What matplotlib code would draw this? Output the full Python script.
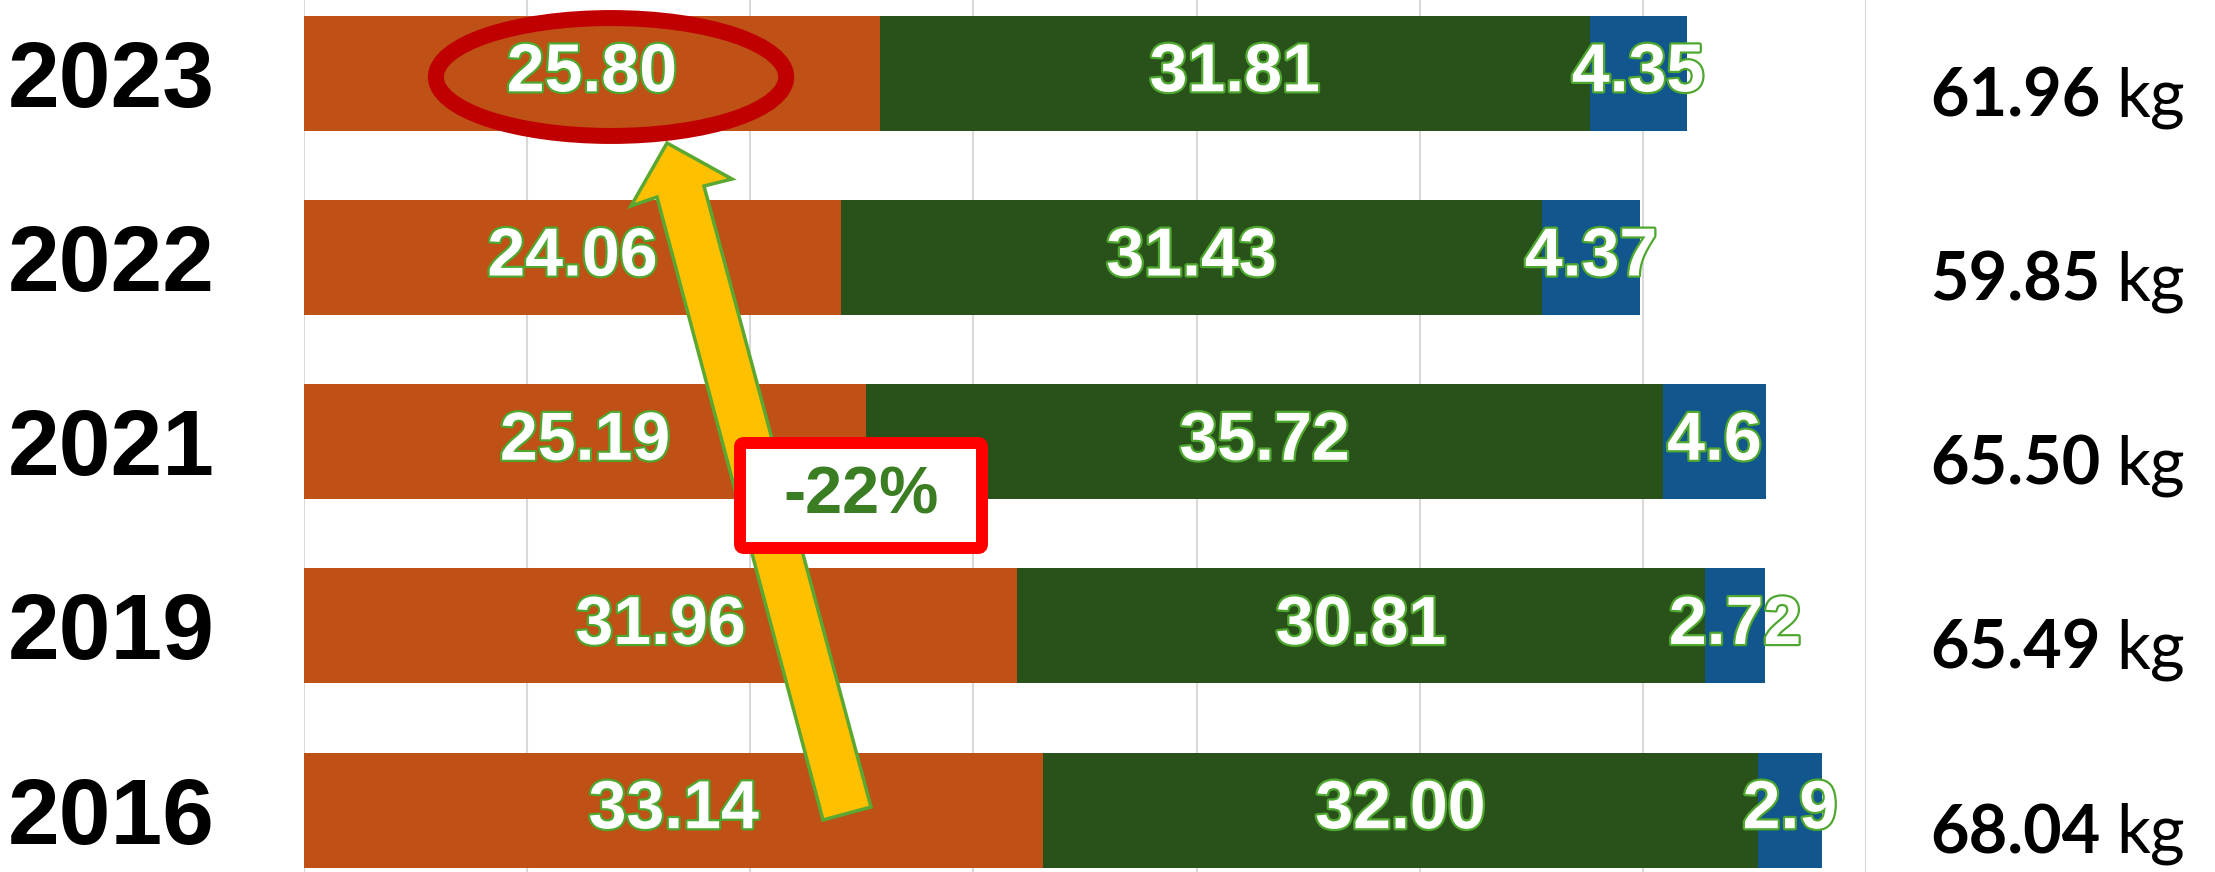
import numpy as np
import matplotlib
matplotlib.use("Agg")
import matplotlib.pyplot as plt
import matplotlib.patheffects as pe
from matplotlib.patches import Ellipse, Polygon, FancyBboxPatch

plt.rcParams['font.family'] = ['Liberation Sans', 'DejaVu Sans']

# data, top row first
years = ["2023", "2022", "2021", "2019", "2016"]
orange_vals = [25.80, 24.06, 25.19, 31.96, 33.14]
green_vals = [31.81, 31.43, 35.72, 30.81, 32.00]
blue_vals = [4.35, 4.37, 4.59, 2.72, 2.90]
blue_labels = ["4.35", "4.37", "4.6", "2.72", "2.9"]
totals = [61.96, 59.85, 65.50, 65.49, 68.04]

c_orange = '#BF5016'
c_green = '#285219'
c_blue = '#11568C'
outline = '#4EA72E'

W, H = 2215, 872
fig = plt.figure(figsize=(W / 100, H / 100), dpi=100)
ax = fig.add_axes([304 / W, 0, (1866 - 304) / W, 1])

y = np.arange(len(years))[::-1]
h = 0.624
orange = np.array(orange_vals)
green = np.array(green_vals)
blue = np.array(blue_vals)

ax.barh(y, orange, height=h, color=c_orange, zorder=2)
ax.barh(y, green, left=orange, height=h, color=c_green, zorder=2)
ax.barh(y, blue, left=orange + green, height=h, color=c_blue, zorder=2)

stroke = [pe.withStroke(linewidth=3.2, foreground=outline)]
segs = [(np.zeros_like(orange), orange, None),
        (orange, green, None),
        (orange + green, blue, blue_labels)]
for left, vals, labs in segs:
    for i in range(len(years)):
        txt = labs[i] if labs is not None else f"{vals[i]:.2f}"
        ax.text(left[i] + vals[i] / 2, y[i], txt, ha='center', va='center',
                fontsize=49, fontweight='bold', color='white',
                path_effects=stroke, zorder=5)

# totals on the right
for i, t in enumerate(totals):
    ax.text(80.5, y[i] - 0.13, f"{t:.2f}", ha='right', va='center',
            fontsize=48, fontweight='bold', family='Lato', color='black', clip_on=False)
    ax.text(81.2, y[i] - 0.13, "kg", ha='left', va='center',
            fontsize=48, family='Lato', color='black', clip_on=False)

ax.set_xlim(0, 70)
ax.set_ylim(-0.3355, 4.398)
ax.set_xticks(range(0, 71, 10))
ax.xaxis.grid(True, color='#D9D9D9', linewidth=1.5, zorder=0)
ax.set_axisbelow(True)
ax.tick_params(axis='x', length=0, labelbottom=False)
ax.set_yticks(y, years)
ax.tick_params(axis='y', length=0, pad=64, labelsize=67)
for lab in ax.get_yticklabels():
    lab.set_fontweight('bold')
for s in ax.spines.values():
    s.set_visible(False)

# red ellipse around the 2023 value
ax.add_patch(Ellipse((13.76, 3.98), 15.7, 0.64, fill=False,
                     edgecolor='#C00000', linewidth=11.5, zorder=6))

# yellow arrow (pixel coords -> inches)
tr = fig.dpi_scale_trans
pts = [(667, 143), (732, 179), (704, 186), (871, 807), (823, 820), (657, 197), (631, 206)]
pts = [(px / 100, (H - py) / 100) for px, py in pts]
fig.add_artist(Polygon(pts, closed=True, facecolor='#FFC000', edgecolor='#5AA832',
                       linewidth=2.5, transform=tr, zorder=7))

# -22% box
box = FancyBboxPatch((740 / 100, (H - 548) / 100), 2.42, 1.05,
                     boxstyle='round,pad=0,rounding_size=0.04',
                     facecolor='white', edgecolor='#FF0000', linewidth=8.6,
                     transform=tr, zorder=8)
fig.add_artist(box)
fig.text(861 / W, 1 - 496 / H, "-22%", ha='center', va='center', fontsize=48,
         fontweight='bold', color='#3B7D23', zorder=9)

fig.savefig("out.png", dpi=100)
